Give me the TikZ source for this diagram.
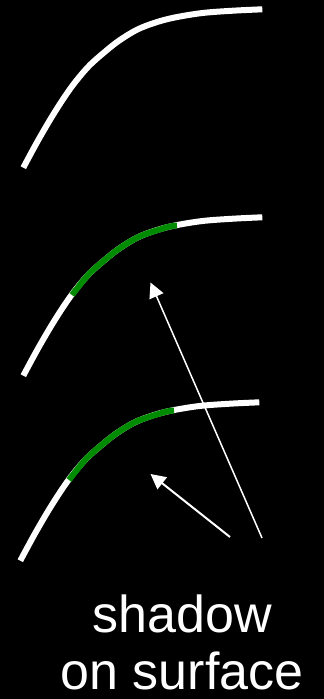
\documentclass[tikz,border=0pt]{standalone}
\usepackage{fontspec}
\setmainfont{Liberation Sans}
\usetikzlibrary{arrows.meta}
\definecolor{shgreen}{RGB}{0,140,0}
\tikzset{
  surfline/.style={draw=white, line width=6pt},
  shadowline/.style={draw=shgreen, line width=6pt},
  rayarrow/.style={draw=white, fill=white, -{Triangle[length=15pt,width=15pt]}},
  label/.style={text=white, font=\fontsize{52}{57}\selectfont, inner sep=0pt, anchor=base},
  surface/.pic={
    \draw[surfline] plot[smooth, tension=0.55] coordinates {(23.3,167.7) (38.3,140) (55,111.7) (71.7,86.7) (88.3,66.7) (105,51.7) (120,40) (140,28.3) (166.7,19.3) (200,13.3) (233,10.7) (262.3,9.3)};
  },
  shadowpart/.pic={
    \draw[shadowline] plot[smooth, tension=0.55] coordinates {(72,87) (88.3,66.7) (105,51.7) (120,40) (140,28.3) (166.7,19.3) (177,17.5)};
  }
}
\begin{document}
\begin{tikzpicture}[x=1pt, y=-1pt]
  \fill[black] (0,0) rectangle (324,699);
  \useasboundingbox (0,0) rectangle (324,699);
  % surfaces
  \pic at (0,0) {surface};
  \pic at (0,208) {surface};
  \pic at (0,208) {shadowpart};
  \pic at (-3,393) {surface};
  \pic at (-3,393) {shadowpart};
  % rays
  \coordinate (r1s) at (262,538);
  \coordinate (r1t) at (150.5,282.5);
  \coordinate (r2s) at (230,537);
  \coordinate (r2t) at (150.5,474);
  \draw[rayarrow, line width=1.5pt] (r1s) -- (r1t);
  \draw[rayarrow, line width=2pt] (r2s) -- (r2t);
  % text
  \node[label] (t1) at (182,632) {shadow};
  \node[label] (t2) at (182,689) {on surface};
\end{tikzpicture}
\end{document}
